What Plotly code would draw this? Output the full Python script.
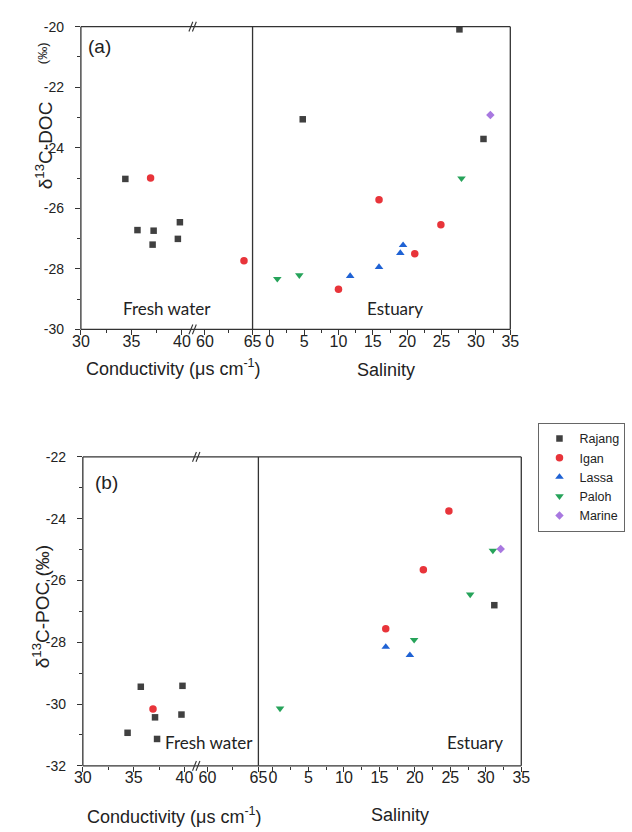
import plotly.graph_objects as go

# ---------------- data ----------------
series_names = ["Rajang", "Igan", "Lassa", "Paloh", "Marine"]

# Panel (a): d13C-DOC
doc_rajang_cond = [34.4, 35.6, 37.2, 37.1, 39.8, 39.6]
doc_rajang_cond_v = [-25.03, -26.72, -26.74, -27.20, -26.46, -27.01]
doc_rajang_sal = [4.8, 27.6, 31.1]
doc_rajang_sal_v = [-23.06, -20.09, -23.71]
doc_igan_cond = [36.9, 64.1]
doc_igan_cond_v = [-25.00, -27.73]
doc_igan_sal = [10.0, 15.9, 21.1, 24.9]
doc_igan_sal_v = [-28.67, -25.72, -27.50, -26.54]
doc_lassa_cond = []
doc_lassa_cond_v = []
doc_lassa_sal = [11.7, 15.9, 19.0, 19.4]
doc_lassa_sal_v = [-28.24, -27.94, -27.48, -27.22]
doc_paloh_cond = []
doc_paloh_cond_v = []
doc_paloh_sal = [1.1, 4.3, 27.9]
doc_paloh_sal_v = [-28.33, -28.21, -25.01]
doc_marine_cond = []
doc_marine_cond_v = []
doc_marine_sal = [32.1]
doc_marine_sal_v = [-22.92]

# Panel (b): d13C-POC
poc_rajang_cond = [35.7, 39.8, 34.4, 37.1, 39.7, 37.3]
poc_rajang_cond_v = [-29.44, -29.41, -30.93, -30.43, -30.34, -31.13]
poc_rajang_sal = [31.2]
poc_rajang_sal_v = [-26.80]
poc_igan_cond = [36.9]
poc_igan_cond_v = [-30.16]
poc_igan_sal = [15.9, 21.2, 24.8]
poc_igan_sal_v = [-27.56, -25.65, -23.75]
poc_lassa_cond = []
poc_lassa_cond_v = []
poc_lassa_sal = [15.9, 19.3]
poc_lassa_sal_v = [-28.15, -28.42]
poc_paloh_cond = []
poc_paloh_cond_v = []
poc_paloh_sal = [1.0, 19.9, 27.8, 31.0]
poc_paloh_sal_v = [-30.14, -27.92, -26.45, -25.03]
poc_marine_cond = []
poc_marine_cond_v = []
poc_marine_sal = [32.1]
poc_marine_sal_v = [-24.98]

doc_ticks = [-30, -28, -26, -24, -22, -20]
poc_ticks = [-32, -30, -28, -26, -24, -22]

# ---------------- styling ----------------
W, H = 632, 832
def px(x):
    return x / W
def py(y):
    return 1 - y / H

colors = {"Rajang": "#404040", "Igan": "#e8343a", "Lassa": "#1f62d4",
          "Paloh": "#26a35a", "Marine": "#a878e0"}
symbols = {"Rajang": "square", "Igan": "circle", "Lassa": "triangle-up",
           "Paloh": "triangle-down", "Marine": "diamond"}
sizes = {"Rajang": 6.5, "Igan": 7.5, "Lassa": 7.5, "Paloh": 7.5, "Marine": 6.5}

AX = "#333333"
TF = "Liberation Sans, Arial, sans-serif"

doc = {
    "Rajang": (doc_rajang_cond, doc_rajang_cond_v, doc_rajang_sal, doc_rajang_sal_v),
    "Igan": (doc_igan_cond, doc_igan_cond_v, doc_igan_sal, doc_igan_sal_v),
    "Lassa": (doc_lassa_cond, doc_lassa_cond_v, doc_lassa_sal, doc_lassa_sal_v),
    "Paloh": (doc_paloh_cond, doc_paloh_cond_v, doc_paloh_sal, doc_paloh_sal_v),
    "Marine": (doc_marine_cond, doc_marine_cond_v, doc_marine_sal, doc_marine_sal_v),
}
poc = {
    "Rajang": (poc_rajang_cond, poc_rajang_cond_v, poc_rajang_sal, poc_rajang_sal_v),
    "Igan": (poc_igan_cond, poc_igan_cond_v, poc_igan_sal, poc_igan_sal_v),
    "Lassa": (poc_lassa_cond, poc_lassa_cond_v, poc_lassa_sal, poc_lassa_sal_v),
    "Paloh": (poc_paloh_cond, poc_paloh_cond_v, poc_paloh_sal, poc_paloh_sal_v),
    "Marine": (poc_marine_cond, poc_marine_cond_v, poc_marine_sal, poc_marine_sal_v),
}

fig = go.Figure()

def add_panel(data, xl, xh, xs, ya, legend):
    for name in series_names:
        cond, cv, sal, sv = data[name]
        lo = [(c, v) for c, v in zip(cond, cv) if c < 50]
        hi = [(c, v) for c, v in zip(cond, cv) if c >= 50]
        mk = dict(symbol=symbols[name], color=colors[name], size=sizes[name], line=dict(width=0))
        parts = [(list(zip(sal, sv)), xs, True), (lo, xl, False), (hi, xh, False)]
        for pts, xa, leg in parts:
            fig.add_trace(go.Scatter(
                x=[p[0] for p in pts], y=[p[1] for p in pts],
                mode="markers", marker=mk, name=name, legendgroup=name,
                showlegend=(legend and leg), xaxis=xa, yaxis=ya,
                cliponaxis=False))

add_panel(poc, "x4", "x5", "x6", "y2", True)
add_panel(doc, "x", "x2", "x3", "y", False)

def xax(domain, rng, anchor, dtick, minor, tick0):
    return dict(domain=domain, range=rng, anchor=anchor, showgrid=False, zeroline=False,
                showline=False, ticks="outside", ticklen=5, tickwidth=1.2, tickcolor=AX,
                tick0=tick0, dtick=dtick, ticklabelstandoff=-8,
                minor=dict(ticks="outside", ticklen=3, tickwidth=1, tickcolor=AX, dtick=minor, tick0=tick0, showgrid=False),
                tickfont=dict(family=TF, size=16, color="#222"), fixedrange=True)

def yax(domain, rng, anchor, ticks):
    return dict(domain=domain, range=rng, anchor=anchor, showgrid=False, zeroline=False,
                showline=False, ticks="outside", ticklen=5, tickwidth=1.2, tickcolor=AX,
                tickmode="array", tickvals=ticks, ticktext=[str(t) for t in ticks],
                ticklabelstandoff=8,
                minor=dict(ticks="outside", ticklen=3, tickwidth=1, tickcolor=AX, dtick=1, tick0=0, showgrid=False),
                tickfont=dict(family=TF, size=14, color="#222"), fixedrange=True)

# panel geometry (pixels)
aL, aB1, aD, aR, aT, aBot = 74, 189, 250.7, 516, 19, 327.7
bL, bB1, bD, bR, bT, bBot = 76, 192.7, 256.7, 527.3, 457.7, 772.7

fig.update_layout(
    xaxis=xax([px(aL), px(aB1)], [30, 41.06], "y", 5, 2.5, 30),
    xaxis2=xax([px(aB1), px(aD)], [58.7, 65.001], "y", 5, 2.5, 30),
    xaxis3=xax([px(aD), px(aR)], [-2.5, 35.001], "y", 5, 2.5, 0),
    yaxis=yax([py(aBot), py(aT)], [-30, -20], "x", doc_ticks),
    xaxis4=xax([px(bL), px(bB1)], [30, 41.15], "y2", 5, 2.5, 30),
    xaxis5=xax([px(bB1), px(bD)], [58.9, 65.001], "y2", 5, 2.5, 30),
    xaxis6=xax([px(bD), px(bR)], [-2.05, 35.001], "y2", 5, 2.5, 0),
    yaxis2=yax([py(bBot), py(bT)], [-32, -22], "x4", poc_ticks),
)

shapes = []
def line(x0, y0, x1, y1, w=1.3):
    shapes.append(dict(type="line", xref="paper", yref="paper",
                       x0=px(x0), y0=py(y0), x1=px(x1), y1=py(y1),
                       line=dict(color=AX, width=w)))

for (L, Bk, D, R, T, B) in [(aL, aB1, aD, aR, aT, aBot), (bL, bB1, bD, bR, bT, bBot)]:
    line(L, T, R, T)
    line(L, B, R, B)
    line(L, T, L, B)
    line(R, T, R, B)
    line(D, T, D, B)
    for yy in (T, B):
        for off in (-1.8, 1.8):
            line(Bk + off - 2, yy + 5, Bk + off + 2, yy - 5, 1.1)

annotations = []
def text(x, y, s, size, family=TF, angle=0, color="#222"):
    annotations.append(dict(x=px(x), y=py(y), xref="paper", yref="paper", text=s,
                            showarrow=False, xanchor="center", yanchor="middle",
                            textangle=angle, font=dict(family=family, size=size, color=color)))

text(93, 39, "(a)", 19)
text(100, 484, "(b)", 19)
text(163, 306, "Fresh water", 17, "Lato, sans-serif")
text(397, 306, "Estuary", 17, "Lato, sans-serif")
text(206, 749, "Fresh water", 17, "Lato, sans-serif")
text(480, 749, "Estuary", 17, "Lato, sans-serif")
text(169, 367, "Conductivity (μs cm<sup>-1</sup>)", 18)
text(388, 369, "Salinity", 18)
text(170, 823, "Conductivity (μs cm<sup>-1</sup>)", 18)
text(402, 823, "Salinity", 18)
text(36, 140, "δ<sup>13</sup>C-DOC", 19, angle=-90)
text(34, 46, "(‰)", 13, angle=-90)
text(33, 610, "δ<sup>13</sup>C-POC (‰)", 19, angle=-90)

fig.update_layout(
    width=W, height=H, autosize=False,
    margin=dict(l=0, r=0, t=0, b=0),
    paper_bgcolor="white", plot_bgcolor="rgba(0,0,0,0)",
    shapes=shapes, annotations=annotations,
    legend=dict(x=px(545), y=py(423), xanchor="left", yanchor="top",
                bordercolor="#666", borderwidth=1, bgcolor="white",
                font=dict(family=TF, size=12.5, color="#222"),
                tracegroupgap=0, itemsizing="trace"),
    showlegend=True,
)

fig.write_html("out.html")
